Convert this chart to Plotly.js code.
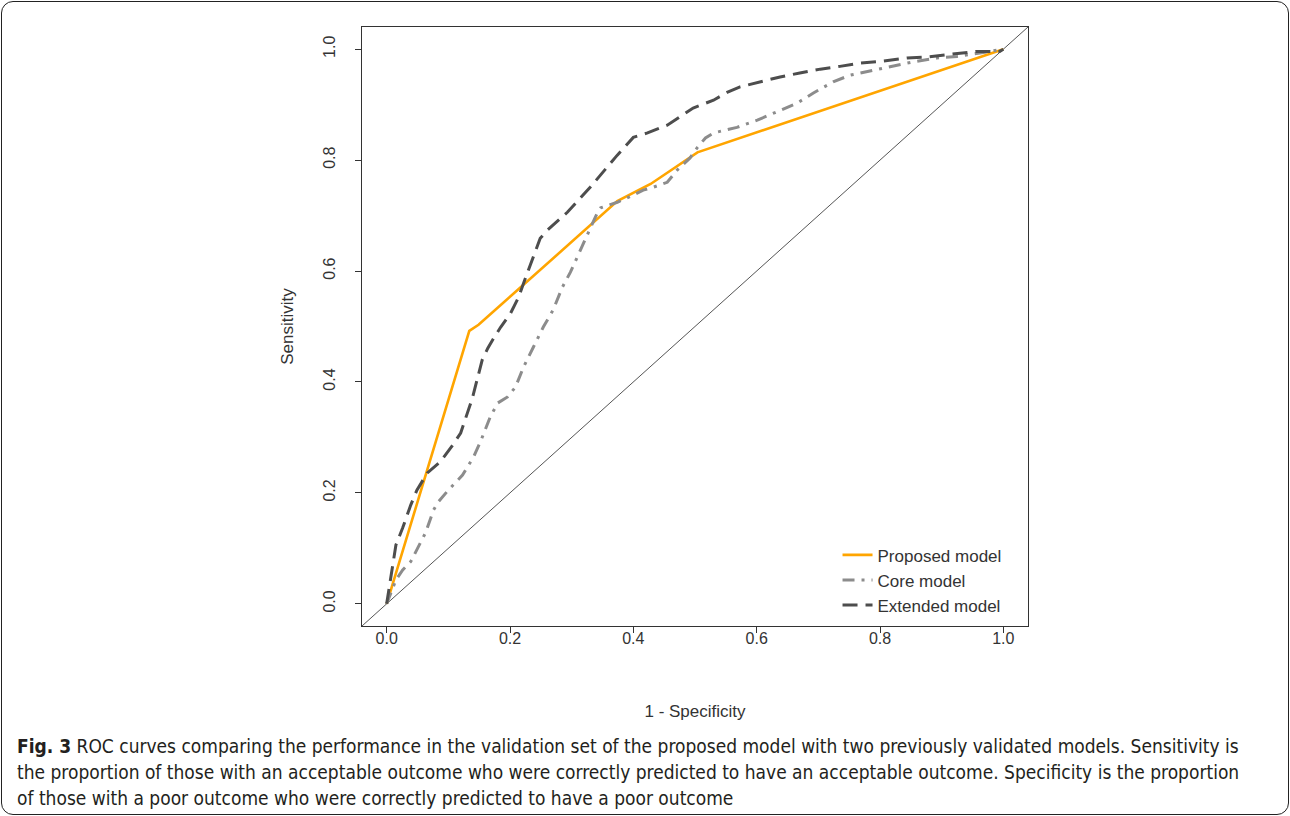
<!DOCTYPE html>
<html>
<head>
<meta charset="utf-8">
<script src="https://cdn.plot.ly/plotly-3.0.1.min.js"></script>
<style>
  html, body { margin: 0; padding: 0; background: #fff; }
  #wrap { position: relative; width: 1290px; height: 816px; overflow: hidden; }
  #chart { position: absolute; left: 0; top: 0; width: 1290px; height: 816px; }
  #frame { position: absolute; left: 1px; top: 1px; width: 1286px; height: 812px;
           border: 1px solid #222; border-radius: 12px; pointer-events: none; }
  #caption { position: absolute; left: 17px; top: 733px; width: 1260px;
             font-family: "Liberation Sans Narrow", "DejaVu Sans Condensed", "Roboto Condensed", sans-serif;
             font-size: 19px; line-height: 26px; color: #231f20; white-space: nowrap; }
  #caption b { font-weight: bold; }
</style>
</head>
<body>
<div id="wrap">
  <div id="chart"></div>
  <div id="frame"></div>
  <div id="caption"><b>Fig. 3</b> ROC curves comparing the performance in the validation set of the proposed model with two previously validated models. Sensitivity is<br>the proportion of those with an acceptable outcome who were correctly predicted to have an acceptable outcome. Specificity is the proportion<br>of those with a poor outcome who were correctly predicted to have a poor outcome</div>
</div>
<script>
// ---- Data (1 - Specificity, Sensitivity) ----
const seriesNames = ["Proposed model", "Core model", "Extended model"];

const proposedX = [0, 0.134, 0.149, 0.374, 0.428, 0.504, 1.0];
const proposedY = [0, 0.492, 0.503, 0.726, 0.757, 0.814, 1.0];

const coreX = [0, 0.015, 0.026, 0.039, 0.063, 0.076, 0.084, 0.100, 0.123, 0.141, 0.152, 0.168, 0.180, 0.196, 0.209, 0.222, 0.238, 0.254, 0.270, 0.285, 0.298, 0.314, 0.326, 0.342, 0.347, 0.374, 0.400, 0.416, 0.432, 0.455, 0.471, 0.492, 0.504, 0.517, 0.530, 0.568, 0.601, 0.627, 0.666, 0.692, 0.724, 0.751, 0.768, 0.789, 0.821, 0.853, 0.892, 0.925, 0.962, 1.0];
const coreY = [0, 0.043, 0.061, 0.076, 0.128, 0.169, 0.184, 0.205, 0.232, 0.265, 0.292, 0.337, 0.362, 0.373, 0.391, 0.427, 0.463, 0.499, 0.530, 0.571, 0.598, 0.638, 0.668, 0.706, 0.714, 0.724, 0.737, 0.746, 0.751, 0.760, 0.782, 0.804, 0.823, 0.840, 0.849, 0.859, 0.872, 0.885, 0.903, 0.921, 0.941, 0.953, 0.957, 0.962, 0.969, 0.977, 0.984, 0.987, 0.993, 1.0];

const extendedX = [0, 0.0065, 0.015, 0.026, 0.039, 0.049, 0.066, 0.087, 0.107, 0.120, 0.139, 0.155, 0.164, 0.172, 0.185, 0.201, 0.214, 0.222, 0.238, 0.249, 0.261, 0.293, 0.330, 0.374, 0.400, 0.423, 0.455, 0.497, 0.530, 0.552, 0.573, 0.606, 0.638, 0.670, 0.703, 0.735, 0.768, 0.800, 0.844, 0.876, 0.930, 0.957, 0.994, 1.0];
const extendedY = [0, 0.043, 0.106, 0.137, 0.178, 0.205, 0.236, 0.256, 0.286, 0.308, 0.371, 0.440, 0.461, 0.476, 0.499, 0.524, 0.553, 0.578, 0.625, 0.659, 0.674, 0.706, 0.751, 0.809, 0.841, 0.849, 0.863, 0.894, 0.908, 0.922, 0.932, 0.941, 0.950, 0.957, 0.964, 0.969, 0.975, 0.978, 0.984, 0.986, 0.993, 0.996, 0.996, 1.0];

const diagX = [-0.05, 1.05];
const diagY = [-0.05, 1.05];

const tickVals = [0, 0.2, 0.4, 0.6, 0.8, 1.0];
const tickText = ["0.0", "0.2", "0.4", "0.6", "0.8", "1.0"];

const FONT = "'Liberation Sans', Arial, Helvetica, sans-serif";

const traces = [
  { x: diagX, y: diagY, mode: "lines", showlegend: false, hoverinfo: "skip",
    line: { color: "#555555", width: 1 } },
  { x: proposedX, y: proposedY, name: seriesNames[0], mode: "lines",
    line: { color: "#FFA500", width: 2.6 } },
  { x: coreX, y: coreY, name: seriesNames[1], mode: "lines",
    line: { color: "#8c8c8c", width: 3, dash: "12px,7px,3px,7px" } },
  { x: extendedX, y: extendedY, name: seriesNames[2], mode: "lines",
    line: { color: "#4d4d4d", width: 3, dash: "15px,8px" } }
];

const axisCommon = {
  range: [-0.04, 1.04], tickmode: "array", tickvals: tickVals, ticktext: tickText,
  showgrid: false, zeroline: false, showline: true, mirror: true,
  linecolor: "#333", linewidth: 1, ticks: "outside", ticklen: 6, tickcolor: "#333",
  tickfont: { family: FONT, size: 16, color: "#333" }
};

const layout = {
  width: 1290, height: 816,
  margin: { l: 362, r: 262, t: 27, b: 190 },
  paper_bgcolor: "#ffffff", plot_bgcolor: "#ffffff",
  showlegend: true,
  font: { family: FONT },
  xaxis: Object.assign({}, axisCommon, {
    ticklabelstandoff: -8,
    title: { text: "1 - Specificity", standoff: 58,
      font: { family: FONT, size: 17, color: "#333" } }
  }),
  yaxis: Object.assign({}, axisCommon, {
    tickangle: -90,
    ticklabelstandoff: 14,
    title: { text: "Sensitivity", standoff: 22,
      font: { family: FONT, size: 17, color: "#333" } }
  }),
  legend: {
    x: 0.714, y: 0.148, xanchor: "left", yanchor: "top",
    bgcolor: "rgba(0,0,0,0)", borderwidth: 0,
    font: { family: FONT, size: 17, color: "#333" },
    traceorder: "normal", tracegroupgap: 0
  }
};

Plotly.newPlot("chart", traces, layout, { displayModeBar: false, staticPlot: true });
</script>
</body>
</html>
